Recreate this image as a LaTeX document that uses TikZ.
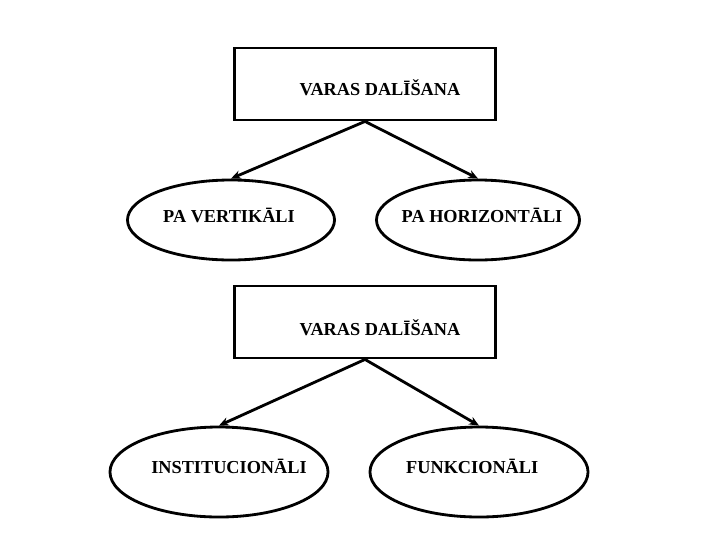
\documentclass[tikz,border=0pt]{standalone}
\usepackage{fontspec}
\setmainfont{Liberation Serif}
\usetikzlibrary{shapes.geometric}
\usetikzlibrary{arrows.meta}

\tikzset{
  lbl/.style={font=\fontsize{13}{15}\selectfont\bfseries, inner sep=0pt},
  box/.style={draw, line width=2pt, rectangle, minimum width=6.525cm, minimum height=1.8cm},
  oval/.style={draw, line width=2pt, ellipse, inner sep=0pt},
  link/.style={line width=2pt, -{Stealth[length=7pt,width=6pt]}}
}

\begin{document}
\begin{tikzpicture}[x=0.025cm,y=-0.025cm]
\useasboundingbox (0,0) rectangle (720,540);

% upper tree
\node[box, label={[lbl,xshift=0.375cm,yshift=-0.08cm]center:VARAS DALĪŠANA}] (vara) at (365,84) {};
\node[oval, minimum width=5.175cm, minimum height=2cm,
  label={[lbl,xshift=-0.05cm,yshift=0.12cm]center:PA VERTIKĀLI}] (vert) at (231,220) {};
\node[oval, minimum width=5.075cm, minimum height=2cm,
  label={[lbl,xshift=0.1cm,yshift=0.12cm]center:PA HORIZONTĀLI}] (horiz) at (478,220) {};
\draw[link] (vara.south) -- (vert.north);
\draw[link] (vara.south) -- (horiz.north);

% lower tree
\node[box, label={[lbl,xshift=0.375cm,yshift=-0.15cm]center:VARAS DALĪŠANA}] (vara2) at (365,322) {};
\node[oval, minimum width=5.45cm, minimum height=2.25cm,
  label={[lbl,xshift=0.25cm,yshift=0.13cm]center:INSTITUCIONĀLI}] (inst) at (219,472) {};
\node[oval, minimum width=5.45cm, minimum height=2.25cm,
  label={[lbl,xshift=-0.17cm,yshift=0.13cm]center:FUNKCIONĀLI}] (funk) at (479,472) {};
\draw[link] (vara2.south) -- (inst.north);
\draw[link] (vara2.south) -- (funk.north);

\end{tikzpicture}
\end{document}
